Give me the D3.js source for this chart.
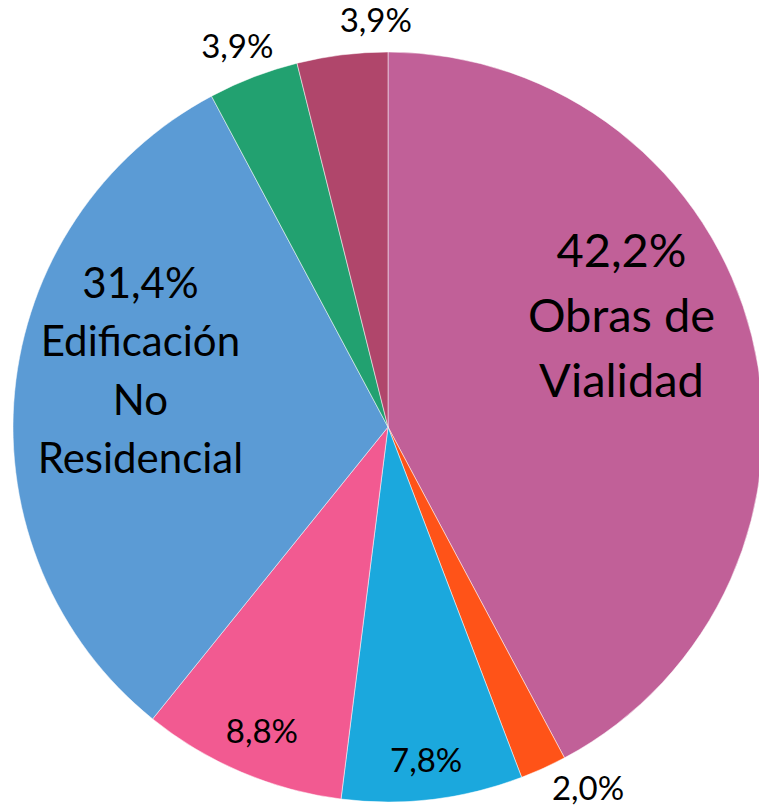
<!DOCTYPE html>
<html>
<head>
<meta charset="utf-8">
<script src="https://cdn.jsdelivr.net/npm/d3@7"></script>
<style>
  body { margin: 0; background: #fff; }
  svg { display: block; }
  text { font-family: Lato, "Open Sans", sans-serif; fill: #000; }
</style>
</head>
<body>
<div id="chart"></div>
<script>
// slices, clockwise from 12 o'clock
var categories = ["Obras de Vialidad", "Otros 1", "Otros 2", "Otros 3", "Edificación No Residencial", "Otros 4", "Otros 5"];
var values = [42.2, 2.0, 7.8, 8.8, 31.4, 3.9, 3.9];
var labelLines = [
    ["42,2%", "Obras de", "Vialidad"],
    ["2,0%"],
    ["7,8%"],
    ["8,8%"],
    ["31,4%", "Edificación", "No", "Residencial"],
    ["3,9%"],
    ["3,9%"]
];
var colors = ["#C16098", "#FF5318", "#1BA8DD", "#F25A91", "#5B9BD5", "#22A170", "#B0466B"];

// label placement: distance from centre (px), angle shift from slice middle (deg), font size
var labelDist = [259, 413, 335, 329, 254, 410, 407];
var labelShift = [-11.6, -4.5, 0.3, -0.5, 7.5, -0.5, 5.3];
var labelSize = [47, 33, 33, 33, 42, 33, 33];

var width = 759, height = 807;
var cx = 388, cy = 427, radius = 375;

var svg = d3.select("#chart")
    .append("svg")
    .attr("width", width)
    .attr("height", height);

var g = svg.append("g")
    .attr("transform", "translate(" + cx + "," + cy + ")");

var pie = d3.pie()
    .sort(null)
    .value(function(d) { return d; });

var arc = d3.arc()
    .innerRadius(0)
    .outerRadius(radius);

var arcs = pie(values);

g.selectAll("path")
    .data(arcs)
    .enter().append("path")
    .attr("d", arc)
    .attr("fill", function(d, i) { return colors[i]; })
    .attr("stroke", "rgba(255,255,255,0.5)")
    .attr("stroke-width", 1);

var labels = g.selectAll("text.lbl")
    .data(arcs)
    .enter().append("text")
    .attr("class", "lbl")
    .attr("text-anchor", "middle")
    .style("font-size", function(d, i) { return labelSize[i] + "px"; })
    .each(function(d, i) {
        var a = (d.startAngle + d.endAngle) / 2 + labelShift[i] * Math.PI / 180;
        var x = labelDist[i] * Math.sin(a);
        var y = -labelDist[i] * Math.cos(a);
        var fs = labelSize[i];
        var lh = fs * 1.39;
        var lines = labelLines[i];
        var firstBase = y - (lines.length - 1) * lh / 2 + fs * 0.36;
        var t = d3.select(this);
        lines.forEach(function(line, k) {
            t.append("tspan")
                .attr("x", x)
                .attr("y", firstBase + k * lh)
                .text(line);
        });
    });
</script>
</body>
</html>
